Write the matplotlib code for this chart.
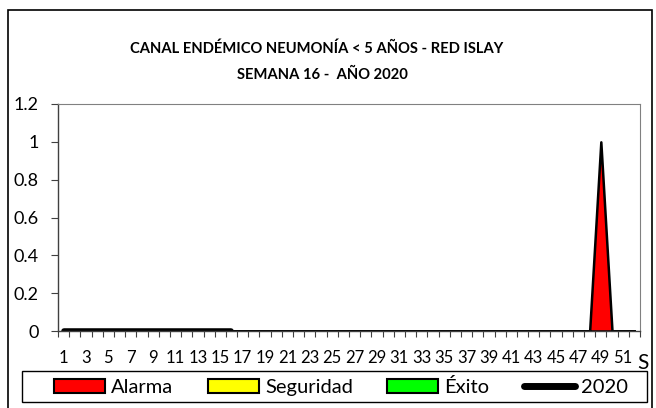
import numpy as np
import matplotlib.pyplot as plt
from matplotlib.patches import Patch, Rectangle
from matplotlib.lines import Line2D

plt.rcParams['font.family'] = ['Lato', 'DejaVu Sans']

semanas = np.arange(1, 53)
alarma = np.zeros(52)
alarma[48] = 1          # semana 49
seguridad = np.zeros(52)
exito = np.zeros(52)
semanas_2020 = np.arange(1, 17)
casos_2020 = np.zeros(16)
etiquetas = [str(s) for s in range(1, 52, 2)]

fig = plt.figure(figsize=(6.56, 4.08), dpi=100)
W, H = 656, 408
ax = fig.add_axes([58 / W, 1 - 331 / H, 582 / W, (331 - 104) / H])

ax.stackplot(semanas, exito, seguridad, alarma,
             colors=['#00ff00', '#ffff00', '#ff0000'],
             edgecolor='black', linewidth=1.8)
ax.plot(semanas_2020, casos_2020, color='black', linewidth=4, solid_capstyle='round')

ax.set_xlim(0.5, 52.5)
ax.set_ylim(0, 1.2)
ax.set_yticks(np.arange(0, 1.21, 0.2))
ax.set_yticklabels(['0', '0.2', '0.4', '0.6', '0.8', '1', '1.2'], fontsize=13)
ax.set_xticks(np.arange(0.5, 53, 1))
ax.set_xticklabels([])
ax.set_xticks(np.arange(1, 52, 2), minor=True)
ax.set_xticklabels(etiquetas, minor=True, fontsize=12)
ax.tick_params(axis='x', which='major', length=4, direction='out', color='#404040')
ax.tick_params(axis='x', which='minor', length=0, pad=14)
ax.tick_params(axis='y', length=5, color='#404040', pad=9)
for lado in ['top', 'right']:
    ax.spines[lado].set_color('#808080')
    ax.spines[lado].set_linewidth(0.8)
for lado in ['left', 'bottom']:
    ax.spines[lado].set_color('#404040')
    ax.spines[lado].set_linewidth(1)

fig.text(643 / W, 1 - 363 / H, 'S', fontsize=15, ha='center', va='center')

titulo = dict(fontsize=10.6, fontweight='bold', ha='center', va='center')
fig.text(317 / W, 1 - 49 / H, 'CANAL ENDÉMICO NEUMONÍA < 5 AÑOS - RED ISLAY', **titulo)
fig.text(322 / W, 1 - 75 / H, 'SEMANA 16 -  AÑO 2020', **titulo)

fig.patches.append(Rectangle((8 / W, -0.05), 644 / W, 1 - 10 / H + 0.05,
                             transform=fig.transFigure, fill=False,
                             edgecolor='black', linewidth=1.2))
fig.patches.append(Rectangle((22 / W, 1 - 402 / H), 625 / W, 31 / H,
                             transform=fig.transFigure, fill=False,
                             edgecolor='black', linewidth=1))

handles = [Patch(facecolor='#ff0000', edgecolor='black', linewidth=1.5),
           Patch(facecolor='#ffff00', edgecolor='black', linewidth=1.5),
           Patch(facecolor='#00ff00', edgecolor='black', linewidth=1.5),
           Line2D([], [], color='black', linewidth=5, solid_capstyle='round')]
leg = fig.legend(handles, ['Alarma', 'Seguridad', 'Éxito', '2020'],
                 ncol=4, loc='center',
                 bbox_to_anchor=(341 / W, 1 - 387 / H),
                 fontsize=14.5, frameon=False,
                 handlelength=2.55, handleheight=0.65, handletextpad=0.3,
                 columnspacing=1.7)

fig.savefig('out.png', dpi=100)
